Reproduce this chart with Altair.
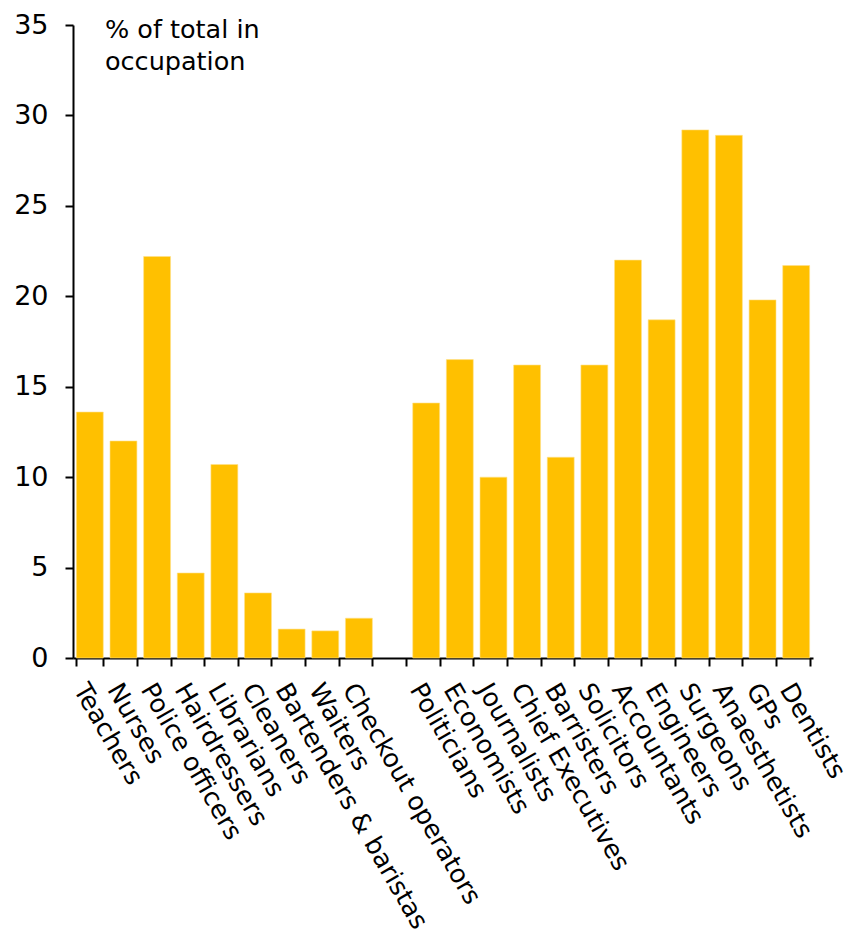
import altair as alt
import pandas as pd

occupations = ["Teachers", "Nurses", "Police officers", "Hairdressers", "Librarians",
               "Cleaners", "Bartenders & baristas", "Waiters", "Checkout operators",
               "Politicians", "Economists", "Journalists", "Chief Executives", "Barristers",
               "Solicitors", "Accountants", "Engineers", "Surgeons", "Anaesthetists",
               "GPs", "Dentists"]
values = [13.6, 12.0, 22.2, 4.7, 10.7, 3.6, 1.6, 1.5, 2.2,
          14.1, 16.5, 10.0, 16.2, 11.1, 16.2, 22.0, 18.7, 29.2, 28.9, 19.8, 21.7]
gap_label = " "
domain = occupations[:9] + [gap_label] + occupations[9:]
y_ticks = [0, 5, 10, 15, 20, 25, 30, 35]
title_lines = ["% of total in", "occupation"]

FONT = "DejaVu Sans"
df = pd.DataFrame({"occupation": occupations, "value": values})

bars = alt.Chart(df).mark_bar(color="#FFC000", stroke="#FFE08A", strokeWidth=0.6).encode(
    x=alt.X("occupation:N", sort=domain,
            scale=alt.Scale(domain=domain, paddingInner=0.2, paddingOuter=0.1),
            axis=alt.Axis(title=None, labelAngle=60, labelAlign="left", labelBaseline="top",
                          labelFontSize=25.5, labelFont=FONT, labelColor="#000",
                          labelPadding=13, tickBand="extent", tickSize=8,
                          tickColor="#000", tickWidth=2, domainColor="#000", domainWidth=2,
                          labelOverlap=False, labelLimit=0)),
    y=alt.Y("value:Q", scale=alt.Scale(domain=[0, 35], nice=False),
            axis=alt.Axis(title=None, values=y_ticks, grid=False, labelFontSize=27,
                          labelFont=FONT, labelColor="#000", labelPadding=17, tickSize=8,
                          tickColor="#000", tickWidth=2, domainColor="#000", domainWidth=2)),
)

title_df = pd.DataFrame({"t": [title_lines]})
title = alt.Chart(title_df).mark_text(align="left", baseline="alphabetic", fontSize=25.5, font=FONT,
                                      color="#000", lineHeight=32).encode(
    text="t", x=alt.value(32), y=alt.value(13))

chart = alt.layer(bars, title).properties(
    width=740, height=633,
    autosize=alt.AutoSizeParams(type="none"),
    padding={"left": 65, "top": 17, "right": 42, "bottom": 282}
).configure_view(stroke=None)

chart.save("out.html", embed_options={"renderer": "svg", "actions": False})
